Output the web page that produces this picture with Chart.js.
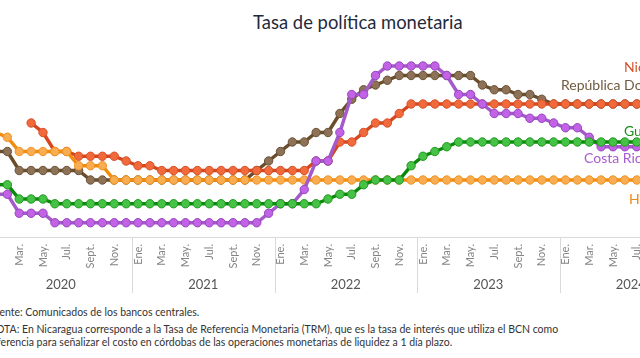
<!DOCTYPE html>
<html lang="es">
<head>
<meta charset="utf-8">
<script src="https://cdn.jsdelivr.net/npm/chart.js@4.4.1/dist/chart.umd.min.js"></script>
<style>
  html, body { margin: 0; padding: 0; background: #fff; }
  #wrap { position: relative; width: 640px; height: 358px; overflow: hidden; font-family: Lato, sans-serif; }
  #title { position: absolute; top: 9px; left: 0; width: 716px; text-align: center; font-size: 20px; line-height: 24px; color: #1f2a3c; }
  #title span { display: inline-block; transform: scaleX(0.92); }
  #chart { position: absolute; left: -30px; top: 0; }
  .note { position: absolute; left: -12px; font-size: 10.5px; line-height: 13px; color: #333; white-space: nowrap; }
</style>
</head>
<body>
<div id="wrap">
  <div id="title"><span>Tasa de política monetaria</span></div>
  <canvas id="chart" width="760" height="300"></canvas>
  <div class="note" style="top:306px">Fuente: Comunicados de los bancos centrales.</div>
  <div class="note" style="top:323px">NOTA: En Nicaragua corresponde a la Tasa de Referencia Monetaria (TRM), que es la tasa de interés que utiliza el BCN como</div>
  <div class="note" style="top:336px">referencia para señalizar el costo en córdobas de las operaciones monetarias de liquidez a 1 día plazo.</div>
</div>
<script>
// months shown on the axis (every other one gets a label)
const monthNames = ['Ene.', 'Feb.', 'Mar.', 'Abr.', 'May.', 'Jun.', 'Jul.', 'Ago.', 'Sept.', 'Oct.', 'Nov.', 'Dic.'];
const years = ['2020', '2021', '2022', '2023', '2024'];

// monthly policy rates, Jan 2020 - Jul 2024 (%)
const guatemala = [
  2.75, 2.75, 2.0, 2.0, 2.0, 1.75, 1.75, 1.75, 1.75, 1.75, 1.75, 1.75,
  1.75, 1.75, 1.75, 1.75, 1.75, 1.75, 1.75, 1.75, 1.75, 1.75, 1.75, 1.75,
  1.75, 1.75, 1.75, 1.75, 2.0, 2.25, 2.25, 2.75, 3.0, 3.0, 3.0, 3.75,
  4.25, 4.5, 4.75, 5.0, 5.0, 5.0, 5.0, 5.0, 5.0, 5.0, 5.0, 5.0,
  5.0, 5.0, 5.0, 5.0, 5.0, 5.0, 5.0
];
const costaRica = [
  2.25, 2.25, 1.25, 1.25, 1.25, 0.75, 0.75, 0.75, 0.75, 0.75, 0.75, 0.75,
  0.75, 0.75, 0.75, 0.75, 0.75, 0.75, 0.75, 0.75, 0.75, 0.75, 0.75, 1.25,
  1.75, 1.75, 2.5, 4.0, 4.0, 5.5, 7.5, 7.5, 8.5, 9.0, 9.0, 9.0,
  9.0, 9.0, 8.5, 7.5, 7.5, 7.0, 6.5, 6.5, 6.5, 6.25, 6.25, 6.0,
  5.75, 5.75, 5.25, 4.75, 4.75, 4.75, 4.75
];
const honduras = [
  5.5, 5.25, 4.5, 4.5, 4.5, 4.5, 4.5, 3.75, 3.75, 3.75, 3.0, 3.0,
  3.0, 3.0, 3.0, 3.0, 3.0, 3.0, 3.0, 3.0, 3.0, 3.0, 3.0, 3.0,
  3.0, 3.0, 3.0, 3.0, 3.0, 3.0, 3.0, 3.0, 3.0, 3.0, 3.0, 3.0,
  3.0, 3.0, 3.0, 3.0, 3.0, 3.0, 3.0, 3.0, 3.0, 3.0, 3.0, 3.0,
  3.0, 3.0, 3.0, 3.0, 3.0, 3.0, 3.0
];
const nicaragua = [
  null, null, null, 6.0, 5.5, 4.5, 4.5, 4.25, 4.25, 4.25, 4.25, 4.0,
  3.75, 3.75, 3.5, 3.5, 3.5, 3.5, 3.5, 3.5, 3.5, 3.5, 3.5, 3.5,
  3.5, 3.5, 3.5, 4.0, 4.0, 5.0, 5.0, 5.5, 6.0, 6.0, 6.5, 7.0,
  7.0, 7.0, 7.0, 7.0, 7.0, 7.0, 7.0, 7.0, 7.0, 7.0, 7.0, 7.0,
  7.0, 7.0, 7.0, 7.0, 7.0, 7.0, 7.0
];
const repDominicana = [
  4.5, 4.5, 3.5, 3.5, 3.5, 3.5, 3.5, 3.5, 3.0, 3.0, 3.0, 3.0,
  3.0, 3.0, 3.0, 3.0, 3.0, 3.0, 3.0, 3.0, 3.0, 3.0, 3.5, 4.0,
  4.5, 5.0, 5.0, 5.5, 5.5, 6.5, 7.25, 7.75, 8.0, 8.25, 8.5, 8.5,
  8.5, 8.5, 8.5, 8.5, 8.5, 8.0, 7.75, 7.75, 7.5, 7.5, 7.25, 7.0,
  7.0, 7.0, 7.0, 7.0, 7.0, 7.0, 7.0
];

const labels = [];
years.forEach(y => monthNames.forEach(m => labels.push(m + ' ' + y)));

function serie(data, line, fill, border) {
  return {
    data: data,
    borderColor: line,
    borderWidth: 3.5,
    pointRadius: 4.2,
    pointBorderWidth: 1,
    pointBackgroundColor: fill,
    pointBorderColor: border,
    tension: 0
  };
}

// end-of-line names (page coords + 30 for the canvas offset)
const seriesNames = [
  { text: 'Nicaragua', color: '#d4532c', x: 654, y: 67 },
  { text: 'República Dominicana', color: '#6e5b40', x: 591, y: 85 },
  { text: 'Guatemala', color: '#1c8c1c', x: 654, y: 131 },
  { text: 'Costa Rica', color: '#a95bd0', x: 614, y: 158 },
  { text: 'Honduras', color: '#ef8a12', x: 659, y: 199 }
];

const yearAxis = {
  id: 'yearAxis',
  afterDraw(chart) {
    const { ctx, chartArea, scales: { x } } = chart;
    const half = (x.getPixelForValue(1) - x.getPixelForValue(0)) / 2;
    ctx.save();
    ctx.strokeStyle = '#d9d9d9';
    ctx.lineWidth = 1;
    ctx.fillStyle = '#555';
    ctx.font = '13px Lato';
    ctx.textAlign = 'center';
    ctx.textBaseline = 'middle';
    years.forEach((yr, i) => {
      const left = x.getPixelForValue(i * 12) - half;
      const right = x.getPixelForValue(i * 12 + 11) + half;
      const lx = Math.round(left) + 0.5;
      ctx.beginPath();
      ctx.moveTo(lx, chartArea.bottom);
      ctx.lineTo(lx, chartArea.bottom + 56);
      ctx.stroke();
      ctx.fillText(yr, (left + right) / 2, chartArea.bottom + 48);
    });
    ctx.font = '14px Lato';
    ctx.textAlign = 'left';
    seriesNames.forEach(s => {
      ctx.fillStyle = s.color;
      ctx.fillText(s.text, s.x, s.y);
    });
    ctx.restore();
  }
};

new Chart(document.getElementById('chart'), {
  type: 'line',
  data: {
    labels: labels,
    datasets: [
      serie(guatemala, '#0a8a0a', '#46c246', '#1f9a1f'),
      serie(costaRica, '#a45bc9', '#c263e6', '#9544bf'),
      serie(honduras, '#f28c0c', '#f9ad52', '#f0911e'),
      serie(nicaragua, '#d4481f', '#f06a3c', '#d9502a'),
      serie(repDominicana, '#6a4d2b', '#8d7257', '#6a5236')
    ]
  },
  options: {
    responsive: false,
    animation: false,
    layout: { padding: { left: 19.56, right: 27.94, top: 47, bottom: 3 } },
    plugins: { legend: { display: false }, tooltip: { enabled: false } },
    scales: {
      x: {
        offset: true,
        grid: { display: false, drawTicks: false },
        border: { display: true, color: '#d9d9d9' },
        ticks: {
          autoSkip: false,
          maxRotation: 90,
          minRotation: 90,
          padding: 7,
          color: '#858585',
          font: { family: 'Lato', size: 11 },
          callback: (v, i) => (i % 2 === 0 ? monthNames[i % 12] : '')
        },
        afterFit: s => { s.height = 60; }
      },
      y: { display: false, min: 0, max: 10 }
    }
  },
  plugins: [yearAxis]
});
</script>
</body>
</html>
